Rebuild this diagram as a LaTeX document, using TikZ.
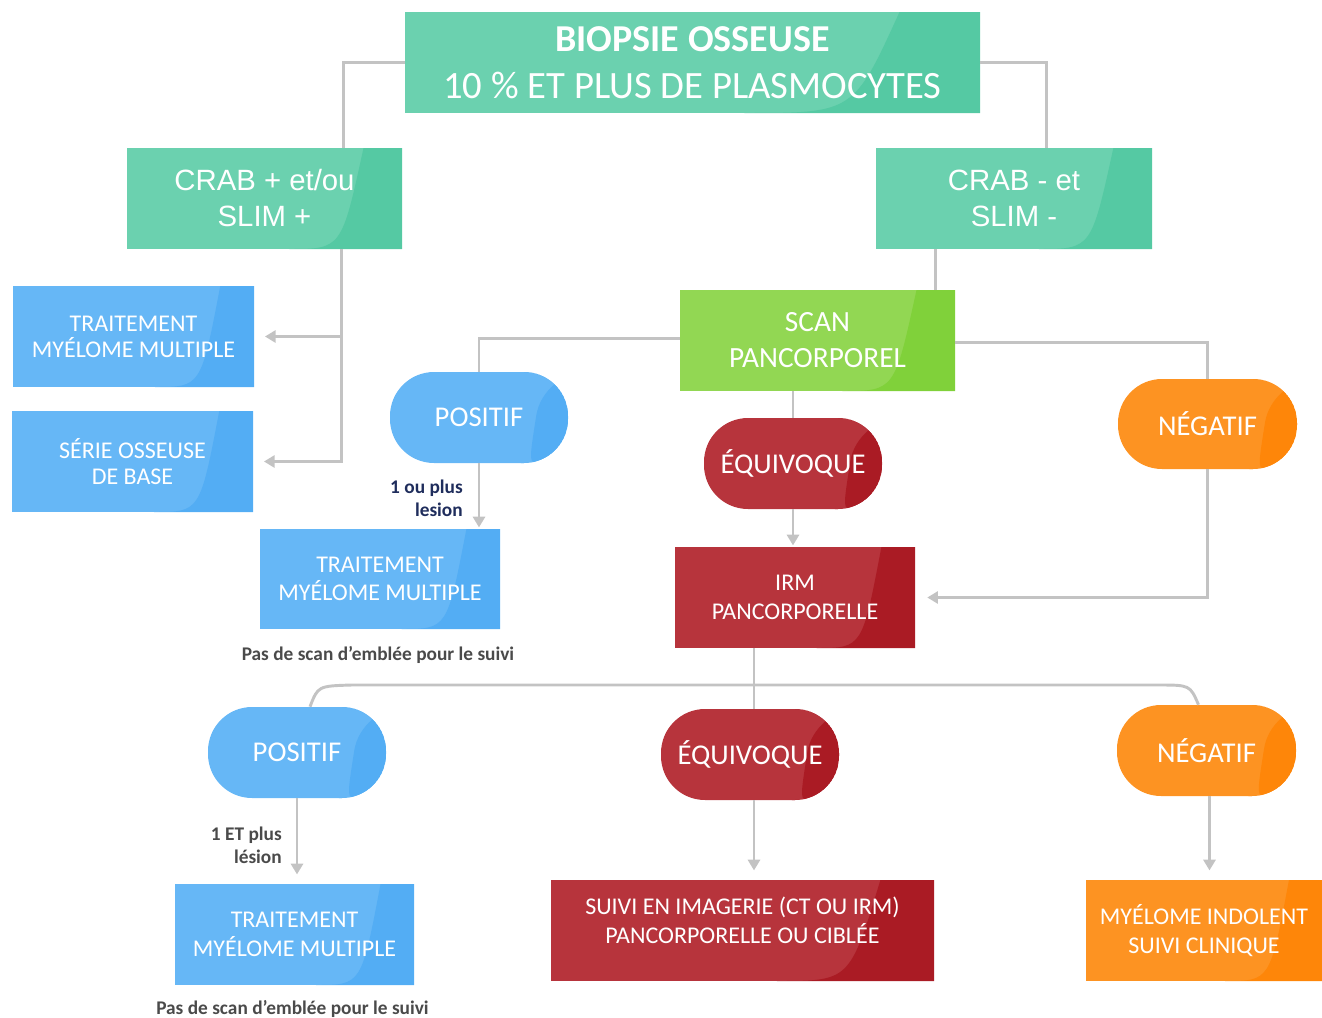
\documentclass[tikz,border=0pt]{standalone}
\usepackage{fontspec}
\setmainfont{Carlito}
\newfontfamily\arialf{Liberation Sans}
\usetikzlibrary{arrows.meta,calc}
\definecolor{tealA}{HTML}{6BD1AF}
\definecolor{tealB}{HTML}{55C9A3}
\definecolor{greenA}{HTML}{92D753}
\definecolor{greenB}{HTML}{80D13A}
\definecolor{blueA}{HTML}{66B7F6}
\definecolor{blueB}{HTML}{53ADF4}
\definecolor{redA}{HTML}{B7343C}
\definecolor{redB}{HTML}{AA1B24}
\definecolor{orangeA}{HTML}{FD9322}
\definecolor{orangeB}{HTML}{FE8609}
\definecolor{lineg}{HTML}{C3C3C3}
\definecolor{navy}{HTML}{1F2D5C}
\definecolor{darkg}{HTML}{4A4A4A}
\tikzset{
  shine/.style n args={2}{fill=#1, path picture={
    \path (path picture bounding box.north west) coordinate (ppnw)
          (path picture bounding box.south east) coordinate (ppse);
    \fill[#2] ($(ppnw)!0.86!(ppnw-|ppse)$) .. controls ($(ppnw|-ppse)!0.78!(ppse)$) .. ($(ppnw|-ppse)!0.59!(ppse)$) -- (ppse) -- (ppnw-|ppse) -- cycle;
  }},
  rect/.style n args={4}{at={({(#1+#3)/2},{(#2+#4)/2})},
    minimum width={(#3-#1)*0.75pt}, minimum height={(#4-#2)*0.75pt}},
  box/.style={inner sep=0pt, text=white, align=center, font=\fontsize{18}{21.5}\selectfont},
  pill/.style={box, rounded corners=33pt, font=\fontsize{21.5}{24}\selectfont},
  conn/.style={draw=lineg, line width=2.2pt},
  arr/.style={conn, -{Triangle[width=9pt,length=8pt]}},
  lab/.style={inner sep=0pt, align=right, font=\bfseries\fontsize{14.5}{17}\selectfont},
  note/.style={inner sep=0pt, text=darkg, font=\bfseries\fontsize{14.5}{17}\selectfont},
}
\begin{document}
\begin{tikzpicture}[x=0.75pt,y=-0.75pt]
\useasboundingbox (0,0) rectangle (1322,1018);
% boxes
\node[box, shine={tealA}{tealB}, rect={405}{12}{980}{113}, font=\fontsize{29}{35.5}\selectfont] (top)
  {{\bfseries\fontsize{28.5}{35.5}\selectfont BIOPSIE OSSEUSE}\\10 \% ET PLUS DE PLASMOCYTES};
\node[box, shine={tealA}{tealB}, rect={127}{148}{402}{249}, font=\arialf\fontsize{22}{27}\selectfont] (crabp)
  {CRAB + et/ou\\SLIM +};
\node[box, shine={tealA}{tealB}, rect={876}{148}{1152}{249}, font=\arialf\fontsize{22}{27}\selectfont] (crabm)
  {CRAB - et\\SLIM -};
\node[box, shine={blueA}{blueB}, rect={13}{286}{254}{387}, font=\fontsize{18}{19.5}\selectfont] (trt1) {TRAITEMENT\\MYÉLOME MULTIPLE};
\node[box, shine={blueA}{blueB}, rect={12}{411}{253}{512}, font=\fontsize{18}{19.5}\selectfont] (serie) {SÉRIE OSSEUSE\\DE BASE};
\node[box, shine={greenA}{greenB}, rect={680}{290}{955}{391}, font=\fontsize{22}{27}\selectfont] (scan) {SCAN\\PANCORPOREL};
\node[pill, shine={blueA}{blueB}, rect={390}{372}{568}{463}] (pos1) {POSITIF};
\node[pill, shine={redA}{redB}, rect={704}{418}{882}{509}] (equ1) {ÉQUIVOQUE};
\node[pill, shine={orangeA}{orangeB}, rect={1118}{379}{1297}{469}] (neg1) {NÉGATIF};
\node[box, shine={blueA}{blueB}, rect={260}{529}{500}{629}] (trt2) {TRAITEMENT\\MYÉLOME MULTIPLE};
\node[box, shine={redA}{redB}, rect={675}{547}{915}{648}] (irm) {IRM\\PANCORPORELLE};
\node[pill, shine={blueA}{blueB}, rect={208}{707}{386}{798}] (pos2) {POSITIF};
\node[pill, shine={redA}{redB}, rect={661}{709}{839}{800}] (equ2) {ÉQUIVOQUE};
\node[pill, shine={orangeA}{orangeB}, rect={1117}{705}{1296}{796}] (neg2) {NÉGATIF};
\node[box, shine={blueA}{blueB}, rect={175}{884}{414}{985}] (trt3) {TRAITEMENT\\MYÉLOME MULTIPLE};
\node[box, shine={redA}{redB}, rect={551}{880}{934}{981}] (suivi) {};
\node[box] (suivit) at ($(suivi.center)+(0,-10)$) {SUIVI EN IMAGERIE (CT OU IRM)\\PANCORPORELLE OU CIBLÉE};
\node[box, shine={orangeA}{orangeB}, rect={1086}{880}{1322}{981}] (indol) {MYÉLOME INDOLENT\\SUIVI CLINIQUE};
% labels
\node[lab, text=navy, anchor=east] (l1) at ($(pos1.south)+(-16,35)$) {1 ou plus\\lesion};
\node[lab, text=darkg, anchor=east] (l2) at ($(pos2.south)+(-15,47)$) {1 ET plus\\lésion};
\node[note] (n1) at ($(trt2.south)+(-2,26)$) {Pas de scan d’emblée pour le suivi};
\node[note] (n2) at ($(trt3.south)+(-2,24)$) {Pas de scan d’emblée pour le suivi};
% connectors
\coordinate (cpn) at ($(crabp.north west)!0.787!(crabp.north east)$);
\coordinate (cmn) at ($(crabm.north west)!0.616!(crabm.north east)$);
\draw[conn] (top.west) -| (cpn);
\draw[conn] (top.east) -| (cmn);
\coordinate (cps) at ($(crabp.south west)!0.78!(crabp.south east)$);
\draw[arr, shorten >=8pt] (cps) |- (serie.east);
\draw[arr, shorten >=8pt] (cps |- trt1.east) -- (trt1.east);
\coordinate (cms) at ($(crabm.south west)!0.217!(crabm.south east)$);
\draw[conn] (cms) -- (cms |- scan.north);
\draw[conn] ($(scan.west)+(0,-2)$) -| (pos1.north);
\draw[conn] ($(scan.east)+(0,2)$) -| (neg1.north);
\draw[conn] (equ1.north |- scan.south) -- (equ1.north);
\draw[arr, shorten >=1pt] (equ1.south) -- (equ1.south |- irm.north);
\draw[arr, shorten >=9pt] (neg1.south) |- (irm.east);
\draw[arr, shorten >=1pt] (pos1.south) -- (pos1.south |- trt2.north);
\draw[conn] ($(equ2.north |- irm.south)+(4,0)$) -- ($(equ2.north)+(4,0)$);
\coordinate (hl) at (352,685);
\coordinate (hr) at (1158,685);
\draw[conn] ($(pos2.north)+(13,0)$) .. controls (318,686) .. (hl) -- (hr) .. controls (1190,685) .. ($(neg2.north)+(-8,0)$);
\draw[arr, shorten >=7pt] ($(equ2.south)+(4,0)$) -- ($(equ2.south |- suivi.north)+(4,0)$);
\draw[arr, shorten >=7pt] ($(neg2.south)+(3,0)$) -- ($(neg2.south |- indol.north)+(3,0)$);
\draw[arr, shorten >=7pt] (pos2.south) -- (pos2.south |- trt3.north);
\end{tikzpicture}
\end{document}
